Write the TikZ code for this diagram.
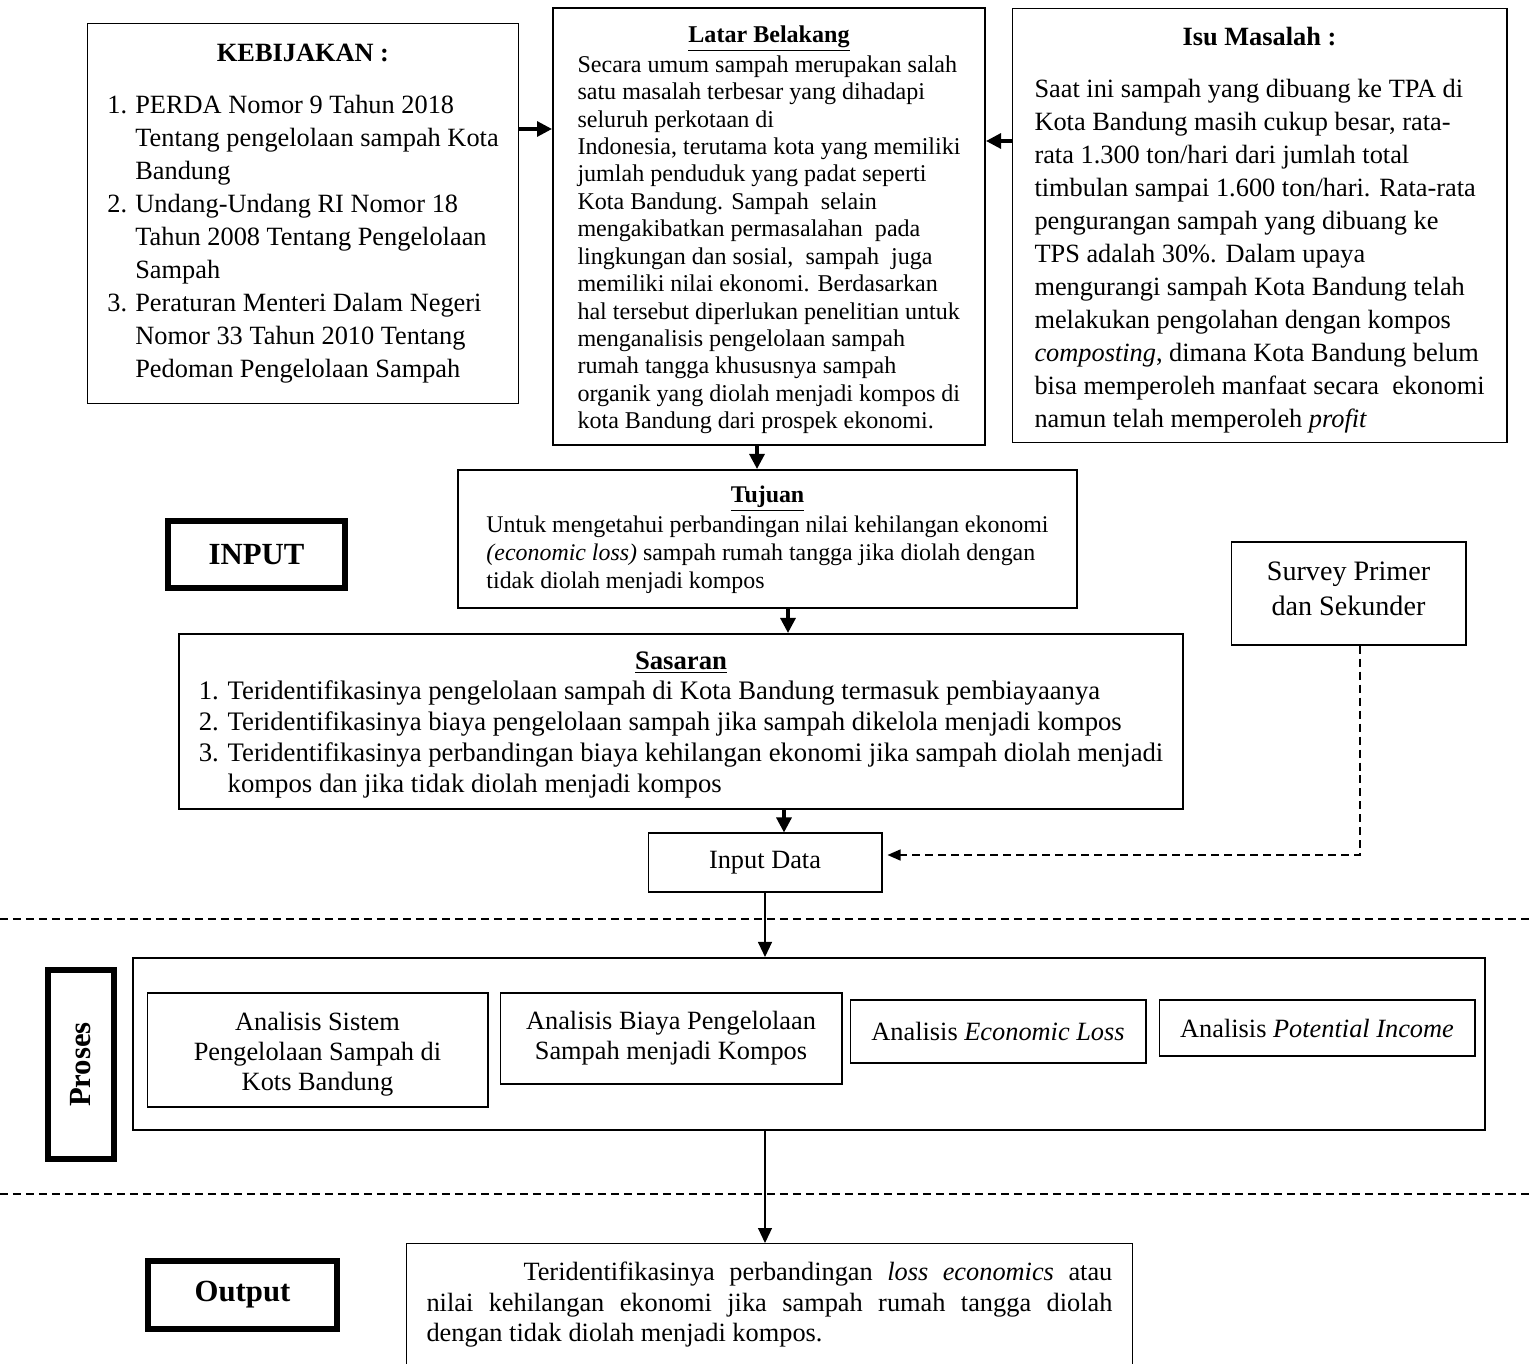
\documentclass[tikz,border=0pt]{standalone}
\usepackage{fontspec}
\setmainfont{Liberation Serif}
\usetikzlibrary{arrows.meta, positioning}

\begin{document}
\begin{tikzpicture}[
    x=0.02cm, y=-0.02cm,
    box/.style={draw, rectangle, line width=0.6pt, align=center, inner sep=0pt},
    tebal/.style={box, line width=1.2pt},
    labelbox/.style={draw, rectangle, line width=3.6pt, font=\fontsize{17.5}{21}\selectfont\bfseries},
    arrow/.style={-{Triangle[length=3mm, width=3mm]}, line width=1.8pt},
    tipis/.style={-{Triangle[length=3mm, width=2.8mm]}, line width=0.6pt},
    putus/.style={dash pattern=on 0.16cm off 0.1cm, line width=1pt}
]
\useasboundingbox (0,0) rectangle (1530,1364);

% Kotak bagian atas
\node[box, minimum width=8.64cm, minimum height=7.62cm, font=\fontsize{15}{18.8}\selectfont] (keb) at (303,213.5) {\rule{0pt}{0.44cm}\textbf{KEBIJAKAN :}\\[0.54cm]
\begin{tabular}{@{}l@{}l@{}}
\makebox[0.56cm][l]{1.} & PERDA Nomor 9 Tahun 2018\\
 & Tentang pengelolaan sampah Kota\\
 & Bandung\\
2. & Undang-Undang RI Nomor 18\\
 & Tahun 2008 Tentang Pengelolaan\\
 & Sampah\\
3. & Peraturan Menteri Dalam Negeri\\
 & Nomor 33 Tahun 2010 Tentang\\
 & Pedoman Pengelolaan Sampah
\end{tabular}};

\node[tebal, minimum width=8.64cm, minimum height=8.74cm, font=\fontsize{13.7}{15.6}\selectfont] (latar) at (769,226.5) {\rule{0pt}{0.53cm}\underline{\textbf{Latar Belakang}}\\
\begin{tabular}{@{}l@{}}
Secara umum sampah merupakan salah\\
satu masalah terbesar yang dihadapi\\
seluruh perkotaan di\\
Indonesia, terutama kota yang memiliki\\
jumlah penduduk yang padat seperti\\
Kota Bandung. Sampah\ \ selain\\
mengakibatkan permasalahan\ \ pada\\
lingkungan dan sosial,\ \ sampah\ \ juga\\
memiliki nilai ekonomi. Berdasarkan\\
hal tersebut diperlukan penelitian untuk\\
menganalisis pengelolaan sampah\\
rumah tangga khususnya sampah\\
organik yang diolah menjadi kompos di\\
kota Bandung dari prospek ekonomi.
\end{tabular}};

\node[box, minimum width=9.9cm, minimum height=8.7cm, font=\fontsize{15}{18.8}\selectfont] (isu) at (1259.5,225.5) {\rule{0pt}{0.64cm}\textbf{Isu Masalah :}\\[0.54cm]
\begin{tabular}{@{}l@{}}
Saat ini sampah yang dibuang ke TPA di\\
Kota Bandung masih cukup besar, rata-\\
rata 1.300 ton/hari dari jumlah total\\
timbulan sampai 1.600 ton/hari. Rata-rata\\
pengurangan sampah yang dibuang ke\\
TPS adalah 30\%. Dalam upaya\\
mengurangi sampah Kota Bandung telah\\
melakukan pengolahan dengan kompos\\
\textit{composting}, dimana Kota Bandung belum\\
bisa memperoleh manfaat secara\ \ ekonomi\\
namun telah memperoleh \textit{profit}
\end{tabular}};

% Tujuan dan sasaran
\node[tebal, minimum width=12.38cm, minimum height=2.76cm, font=\fontsize{13.6}{15.9}\selectfont] (tujuan) at (767.5,539) {\rule{0pt}{0.43cm}\underline{\textbf{Tujuan}}\\
\begin{tabular}{@{}l@{}}
Untuk mengetahui perbandingan nilai kehilangan ekonomi\\
\textit{(economic loss)} sampah rumah tangga jika diolah dengan\\
tidak diolah menjadi kompos
\end{tabular}};

\node[labelbox, minimum width=3.53cm, minimum height=1.33cm] (inputlbl) at (256.5,554.5) {INPUT};

\node[tebal, minimum width=20.08cm, minimum height=3.5cm, font=\fontsize{15.2}{17.6}\selectfont] (sasaran) at (681,721.5) {\rule{0pt}{0.55cm}\underline{\textbf{Sasaran}}\\[0.06cm]
\begin{tabular}{@{}l@{}l@{}}
\makebox[0.58cm][l]{1.} & Teridentifikasinya pengelolaan sampah di Kota Bandung termasuk pembiayaanya\\
2. & Teridentifikasinya biaya pengelolaan sampah jika sampah dikelola menjadi kompos\\
3. & Teridentifikasinya perbandingan biaya kehilangan ekonomi jika sampah diolah menjadi\\
 & kompos dan jika tidak diolah menjadi kompos
\end{tabular}};

\node[box, minimum width=4.7cm, minimum height=2.06cm, font=\fontsize{16}{19.9}\selectfont] (survey) at (1348.5,593.5) {Survey Primer\\dan Sekunder\rule[-0.2cm]{0pt}{0pt}};

\node[box, minimum width=4.68cm, minimum height=1.18cm, font=\fontsize{15}{17}\selectfont] (indata) at (765,862.5) {Input Data};

% Proses
\node[tebal, minimum width=27.04cm, minimum height=3.44cm] (proses) at (809,1044) {};
\node[labelbox, rotate=90, minimum width=3.77cm, minimum height=1.31cm] (proseslbl) at (81,1064.5) {Proses};

\node[box, minimum width=6.82cm, minimum height=2.28cm, font=\fontsize{15}{17}\selectfont] (anaSistem) at (317.5,1050) {\rule{0pt}{0.52cm}Analisis Sistem\\Pengelolaan Sampah di\\Kots Bandung};
\node[box, minimum width=6.84cm, minimum height=1.82cm, font=\fontsize{15}{17}\selectfont] (anaBiaya) at (671,1038.5) {Analisis Biaya Pengelolaan\\Sampah menjadi Kompos};
\node[box, minimum width=5.92cm, minimum height=1.26cm, font=\fontsize{15}{17}\selectfont] (anaLoss) at (998,1031.5) {Analisis \textit{Economic Loss}};
\node[box, minimum width=6.32cm, minimum height=1.12cm, font=\fontsize{15}{17}\selectfont] (anaIncome) at (1317,1028) {Analisis \textit{Potential Income}};

% Output
\node[labelbox, minimum width=3.77cm, minimum height=1.35cm] (outputlbl) at (242.5,1295) {Output};
\node[box, anchor=north west, inner xsep=0.4cm, inner ysep=0.36cm, align=left, font=\fontsize{15}{17.6}\selectfont] (hasil) at (406,1243) {\makebox[13.72cm][s]{\hspace*{1.94cm}Teridentifikasinya perbandingan \textit{loss economics} atau}\\
\makebox[13.72cm][s]{nilai kehilangan ekonomi jika sampah rumah tangga diolah}\\
dengan tidak diolah menjadi kompos.\rule[-2cm]{0pt}{0pt}};

% Garis batas
\coordinate (garisA) at (0,919);
\coordinate (garisAujung) at (1530,919);
\coordinate (garisB) at (0,1194);
\coordinate (garisBujung) at (1530,1194);
\draw[putus] (garisA) -- (garisAujung);
\draw[putus] (garisB) -- (garisBujung);

% Panah
\coordinate (pA) at (536,129);
\coordinate (pB) at (998,141);
\draw[arrow] (keb.east |- pA) -- (latar.west |- pA);
\draw[arrow] (isu.west |- pB) -- (latar.east |- pB);
\draw[arrow] ([xshift=-0.24cm]latar.south) -- ([xshift=-0.24cm]latar.south |- tujuan.north);
\draw[arrow] ([xshift=0.41cm]tujuan.south) -- ([xshift=0.41cm]tujuan.south |- sasaran.north);
\draw[arrow] ([xshift=0.38cm]indata.north |- sasaran.south) -- ([xshift=0.38cm]indata.north);
\draw[putus, line width=0.8pt, -{Triangle[length=2.6mm, width=2.2mm]}] ([xshift=0.23cm]survey.south) |- ([xshift=0.1cm, yshift=0.15cm]indata.east);
\draw[tipis] (indata.south) -- (indata.south |- proses.north);
\draw[tipis] (indata.south |- proses.south) -- (indata.south |- hasil.north);

\end{tikzpicture}
\end{document}
